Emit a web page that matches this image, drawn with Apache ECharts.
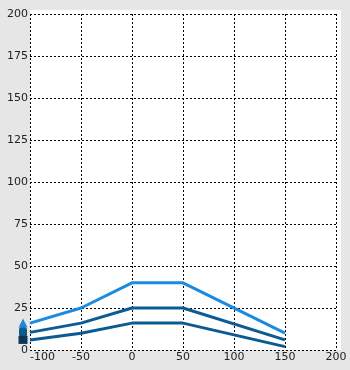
<!DOCTYPE html>
<html>
<head>
<meta charset="utf-8">
<script src="https://cdn.jsdelivr.net/npm/echarts@6/dist/echarts.min.js"></script>
<style>html,body{margin:0;padding:0;background:#e6e6e6;}#c{width:350px;height:370px;}</style>
</head>
<body>
<div id="c"></div>
<script>
var xValues = [-100, -50, 0, 50, 150];
var seriesTop = [16, 25, 40, 40, 10];
var seriesMid = [10.5, 16, 25, 25, 6];
var seriesLow = [6, 10, 16, 16, 2];

var chart = echarts.init(document.getElementById('c'), null, {renderer: 'canvas'});

function build(vals, marker) {
  return xValues.map(function (x, i) {
    if (i === 0) {
      return {value: [x, vals[i]], symbol: marker.symbol, symbolSize: marker.size,
        symbolOffset: [-7, 0], itemStyle: {color: marker.color}};
    }
    return {value: [x, vals[i]], symbol: 'none'};
  });
}

var font = {fontFamily: 'DejaVu Sans', fontSize: 11, color: '#222'};

chart.setOption({
  backgroundColor: '#e6e6e6',
  animation: false,
  graphic: [{type: 'rect', z: -100, silent: true,
    shape: {x: 30, y: 10, width: 311, height: 340}, style: {fill: '#ffffff'}}],
  grid: {left: 30, right: 14, top: 14, bottom: 20, containLabel: false},
  xAxis: {
    type: 'value', min: -100, max: 200, interval: 50,
    axisLine: {show: false}, axisTick: {show: false},
    splitLine: {show: true, lineStyle: {color: '#000', type: [2, 2], width: 1}},
    axisLabel: Object.assign({margin: 2, alignMinLabel: 'left'}, font)
  },
  yAxis: {
    type: 'value', min: 0, max: 200, interval: 25,
    axisLine: {show: false}, axisTick: {show: false},
    splitLine: {show: true, lineStyle: {color: '#000', type: [2, 2], width: 1}},
    axisLabel: Object.assign({margin: 2, padding: [0, 0, 5, 0]}, font)
  },
  series: [
    {type: 'line', clip: false, z: 3, lineStyle: {width: 3, color: '#1a8be0'}, itemStyle: {color: '#1a8be0'},
      data: build(seriesTop, {symbol: 'triangle', size: [9, 9], color: '#1a8be0'})},
    {type: 'line', clip: false, z: 4, lineStyle: {width: 3, color: '#0b5c94'}, itemStyle: {color: '#0b5c94'},
      data: build(seriesMid, {symbol: 'roundRect', size: [8, 10], color: '#0e5a8c'})},
    {type: 'line', clip: false, z: 5, lineStyle: {width: 3, color: '#0b5a91'}, itemStyle: {color: '#0b5a91'},
      data: build(seriesLow, {symbol: 'rect', size: [9, 8], color: '#0c3656'})}
  ]
});
</script>
</body>
</html>
